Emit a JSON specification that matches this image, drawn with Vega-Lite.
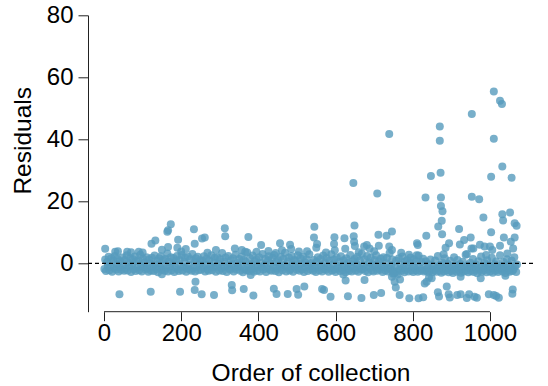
{
"$schema": "https://vega.github.io/schema/vega-lite/v6.json",
"width": 445, "height": 296.4,
"autosize": {"type": "none"},
"padding": {"left": 88, "top": 15.3, "right": 15, "bottom": 74.3},
"config": {"view": {"stroke": null}, "font": "Liberation Sans"},
"datasets": {"resid": [
{"x":1,"y":-1.8},{"x":3,"y":1.2},{"x":5,"y":-2.5},{"x":8,"y":0.4},{"x":10,"y":-0.9},{"x":12,"y":2.1},{"x":14,"y":-2.2},{"x":17,"y":-1.1},{"x":19,"y":1.6},{"x":21,"y":-2.7},{"x":24,"y":0.9},{"x":26,"y":-1.5},{"x":28,"y":2.4},{"x":31,"y":-2.0},{"x":33,"y":-0.3},{"x":35,"y":1.4},{"x":38,"y":-2.6},{"x":40,"y":-1.3},{"x":42,"y":0.7},{"x":45,"y":-2.1},{"x":47,"y":1.9},{"x":49,"y":-0.6},{"x":52,"y":-2.4},{"x":54,"y":1.1},{"x":56,"y":-1.7},{"x":59,"y":2.6},{"x":61,"y":-2.3},{"x":63,"y":0.2},{"x":66,"y":-1.0},{"x":68,"y":1.7},{"x":70,"y":-2.8},{"x":73,"y":-0.5},{"x":75,"y":1.3},{"x":77,"y":-1.9},{"x":80,"y":2.2},{"x":82,"y":-2.5},{"x":84,"y":0.6},{"x":87,"y":-1.4},{"x":89,"y":1.0},{"x":91,"y":-2.2},{"x":94,"y":2.8},{"x":96,"y":-0.8},{"x":98,"y":-2.6},{"x":101,"y":1.5},{"x":103,"y":-1.2},{"x":105,"y":0.3},{"x":108,"y":-2.0},{"x":110,"y":2.0},{"x":112,"y":-1.6},{"x":115,"y":-2.7},{"x":117,"y":1.2},{"x":119,"y":0.0},{"x":122,"y":-2.3},{"x":124,"y":1.8},{"x":126,"y":-1.1},{"x":129,"y":-2.5},{"x":131,"y":2.5},{"x":133,"y":-0.4},{"x":136,"y":-1.8},{"x":138,"y":0.8},{"x":140,"y":-2.9},{"x":143,"y":1.6},{"x":145,"y":-1.3},{"x":147,"y":2.3},{"x":150,"y":-2.1},{"x":152,"y":-0.7},{"x":154,"y":1.0},{"x":157,"y":-2.4},{"x":159,"y":1.4},{"x":161,"y":-1.6},{"x":164,"y":3.2},{"x":166,"y":-2.6},{"x":168,"y":0.5},{"x":171,"y":-1.0},{"x":173,"y":2.0},{"x":175,"y":-2.2},{"x":178,"y":-0.2},{"x":180,"y":1.7},{"x":182,"y":-2.8},{"x":185,"y":-1.4},{"x":187,"y":0.9},{"x":189,"y":2.4},{"x":192,"y":-1.9},{"x":194,"y":-2.5},{"x":196,"y":1.1},{"x":199,"y":-0.9},{"x":201,"y":2.7},{"x":203,"y":-2.3},{"x":206,"y":-1.2},{"x":208,"y":0.4},{"x":210,"y":1.9},{"x":213,"y":-2.7},{"x":215,"y":-1.7},{"x":217,"y":2.2},{"x":220,"y":-0.6},{"x":222,"y":-2.0},{"x":224,"y":1.3},{"x":227,"y":-2.4},{"x":229,"y":3.0},{"x":231,"y":-1.5},{"x":234,"y":0.7},{"x":236,"y":-2.6},{"x":238,"y":1.6},{"x":241,"y":-1.1},{"x":243,"y":2.1},{"x":245,"y":-2.2},{"x":248,"y":-0.3},{"x":250,"y":1.0},
{"x":252,"y":-2.1},{"x":255,"y":0.8},{"x":257,"y":-1.4},{"x":259,"y":2.3},{"x":262,"y":-2.6},{"x":264,"y":-0.5},{"x":266,"y":1.5},{"x":269,"y":-1.9},{"x":271,"y":-2.4},{"x":273,"y":1.0},{"x":276,"y":-0.8},{"x":278,"y":2.6},{"x":280,"y":-2.2},{"x":283,"y":-1.3},{"x":285,"y":0.3},{"x":287,"y":1.8},{"x":290,"y":-2.7},{"x":292,"y":-1.0},{"x":294,"y":2.0},{"x":297,"y":-0.2},{"x":299,"y":-2.3},{"x":301,"y":1.3},{"x":304,"y":-1.6},{"x":306,"y":3.3},{"x":308,"y":-2.5},{"x":311,"y":0.6},{"x":313,"y":-1.1},{"x":315,"y":1.9},{"x":318,"y":-2.8},{"x":320,"y":-0.6},{"x":322,"y":2.4},{"x":325,"y":-1.7},{"x":327,"y":-2.1},{"x":329,"y":0.9},{"x":332,"y":-0.4},{"x":334,"y":1.6},{"x":336,"y":-2.6},{"x":339,"y":-1.4},{"x":341,"y":2.8},{"x":343,"y":-2.0},{"x":346,"y":0.1},{"x":348,"y":-1.2},{"x":350,"y":1.4},{"x":353,"y":-2.4},{"x":355,"y":-0.7},{"x":357,"y":2.2},{"x":360,"y":-2.9},{"x":362,"y":1.1},{"x":364,"y":-1.8},{"x":367,"y":0.5},{"x":369,"y":-2.2},{"x":371,"y":3.5},{"x":374,"y":-1.0},{"x":376,"y":-2.5},{"x":378,"y":1.7},{"x":381,"y":-0.3},{"x":383,"y":-1.9},{"x":385,"y":2.5},{"x":388,"y":-2.7},{"x":390,"y":0.7},{"x":392,"y":-1.5},{"x":395,"y":1.2},{"x":397,"y":-2.3},{"x":399,"y":-0.9},{"x":402,"y":2.0},{"x":404,"y":-2.6},{"x":406,"y":0.2},{"x":409,"y":-1.3},{"x":411,"y":3.0},{"x":413,"y":-2.0},{"x":416,"y":-0.5},{"x":418,"y":1.5},{"x":420,"y":-2.8},{"x":423,"y":-1.6},{"x":425,"y":0.9},{"x":427,"y":2.3},{"x":430,"y":-2.1},{"x":432,"y":-0.1},{"x":434,"y":-2.4},{"x":437,"y":1.8},{"x":439,"y":-1.2},{"x":441,"y":2.7},{"x":444,"y":-2.5},{"x":446,"y":0.4},{"x":448,"y":-1.7},{"x":451,"y":1.0},{"x":453,"y":-2.9},{"x":455,"y":-0.8},{"x":458,"y":2.1},{"x":460,"y":-1.4},{"x":462,"y":-2.2},{"x":465,"y":1.4},{"x":467,"y":-0.6},{"x":469,"y":3.4},{"x":472,"y":-2.6},{"x":474,"y":-1.1},{"x":476,"y":0.6},{"x":479,"y":1.9},{"x":481,"y":-2.3},{"x":483,"y":-1.8},{"x":486,"y":2.4},{"x":488,"y":-0.4},{"x":490,"y":-2.7},{"x":493,"y":1.1},{"x":495,"y":-1.0},{"x":497,"y":0.8},{"x":500,"y":-2.1},{"x":502,"y":2.6},{"x":504,"y":-1.5},{"x":507,"y":-2.4},{"x":509,"y":1.6},{"x":511,"y":-0.2},{"x":514,"y":-1.9},{"x":516,"y":2.2},{"x":518,"y":-2.8},{"x":521,"y":0.3},{"x":523,"y":-1.3},{"x":525,"y":1.3},{"x":528,"y":-2.5},{"x":530,"y":-0.7},{"x":532,"y":2.9},{"x":535,"y":-2.0},{"x":537,"y":0.0},{"x":539,"y":-1.6},
{"x":542,"y":-2.4},{"x":544,"y":1.1},{"x":547,"y":-1.6},{"x":549,"y":-2.8},{"x":551,"y":0.5},{"x":554,"y":2.0},{"x":556,"y":-1.2},{"x":558,"y":-2.2},{"x":561,"y":1.4},{"x":563,"y":-0.6},{"x":565,"y":-2.6},{"x":568,"y":2.5},{"x":570,"y":-1.8},{"x":572,"y":0.2},{"x":575,"y":-2.1},{"x":577,"y":1.7},{"x":579,"y":-1.0},{"x":582,"y":-2.7},{"x":584,"y":0.8},{"x":586,"y":-1.5},{"x":589,"y":2.9},{"x":591,"y":-2.3},{"x":593,"y":-0.3},{"x":596,"y":1.2},{"x":598,"y":-2.0},{"x":600,"y":-2.8},{"x":603,"y":1.9},{"x":605,"y":-0.9},{"x":607,"y":-1.7},{"x":610,"y":0.4},{"x":612,"y":-2.5},{"x":614,"y":2.3},{"x":617,"y":-1.3},{"x":619,"y":-2.2},{"x":621,"y":1.0},{"x":624,"y":-0.5},{"x":626,"y":-2.9},{"x":628,"y":1.6},{"x":631,"y":-1.9},{"x":633,"y":0.1},{"x":635,"y":-2.4},{"x":638,"y":2.7},{"x":640,"y":-1.1},{"x":642,"y":-2.6},{"x":645,"y":0.7},{"x":647,"y":-1.6},{"x":649,"y":1.4},{"x":652,"y":-2.3},{"x":654,"y":-0.2},{"x":656,"y":2.1},{"x":659,"y":-2.7},{"x":661,"y":-1.4},{"x":663,"y":0.9},{"x":666,"y":-2.0},{"x":668,"y":3.1},{"x":670,"y":-1.8},{"x":673,"y":-0.7},{"x":675,"y":1.3},{"x":677,"y":-2.5},{"x":680,"y":-1.2},{"x":682,"y":2.4},{"x":684,"y":-2.9},{"x":687,"y":0.3},{"x":689,"y":-1.5},{"x":691,"y":1.8},{"x":694,"y":-2.2},{"x":696,"y":-0.4},{"x":698,"y":-2.6},{"x":701,"y":1.1},{"x":703,"y":-1.0},{"x":705,"y":2.6},{"x":708,"y":-2.4},{"x":710,"y":-1.7},{"x":712,"y":0.6},{"x":715,"y":-2.1},{"x":717,"y":1.5},{"x":719,"y":-0.8},{"x":722,"y":-2.8},{"x":724,"y":2.0},{"x":726,"y":-1.3},{"x":729,"y":-2.3},{"x":731,"y":0.0},{"x":733,"y":1.7},{"x":736,"y":-2.6},{"x":738,"y":-1.6},{"x":740,"y":3.3},{"x":743,"y":-2.0},{"x":745,"y":-0.6},{"x":747,"y":1.2},{"x":750,"y":-2.5},{"x":752,"y":-3.3},{"x":754,"y":-1.1},{"x":757,"y":0.8},{"x":759,"y":-2.7},{"x":761,"y":-3.6},{"x":764,"y":1.6},{"x":766,"y":-1.9},{"x":768,"y":-0.3},{"x":771,"y":-2.4},{"x":773,"y":2.2},{"x":775,"y":-1.4},{"x":778,"y":-2.9},{"x":780,"y":0.5},{"x":782,"y":-2.1},{"x":785,"y":1.0},{"x":787,"y":-1.7},{"x":789,"y":-2.6},{"x":792,"y":0.2},{"x":794,"y":1.9},{"x":796,"y":-2.3},{"x":799,"y":-0.9},{"x":801,"y":-2.8},{"x":803,"y":1.3},{"x":806,"y":-1.5},{"x":808,"y":-2.2},{"x":810,"y":0.7},{"x":813,"y":-2.7},{"x":815,"y":2.5},{"x":817,"y":-1.2},{"x":820,"y":-2.4},{"x":822,"y":0.4},{"x":824,"y":-1.8},{"x":827,"y":1.5},{"x":829,"y":-2.6},
{"x":832,"y":-2.2},{"x":834,"y":0.6},{"x":837,"y":-1.5},{"x":839,"y":-2.8},{"x":841,"y":-0.3},{"x":844,"y":-2.5},{"x":846,"y":1.2},{"x":848,"y":-1.9},{"x":851,"y":-2.9},{"x":853,"y":-0.8},{"x":855,"y":-2.3},{"x":858,"y":0.9},{"x":860,"y":-1.6},{"x":862,"y":-2.7},{"x":865,"y":2.4},{"x":867,"y":-1.1},{"x":869,"y":-2.4},{"x":872,"y":-0.5},{"x":874,"y":-3.0},{"x":876,"y":0.3},{"x":879,"y":-1.8},{"x":881,"y":-2.6},{"x":883,"y":1.6},{"x":886,"y":-1.3},{"x":888,"y":-2.2},{"x":890,"y":-0.1},{"x":893,"y":-2.9},{"x":895,"y":-1.7},{"x":897,"y":0.8},{"x":900,"y":-2.5},{"x":902,"y":-1.0},{"x":904,"y":-3.1},{"x":907,"y":2.0},{"x":909,"y":-2.0},{"x":911,"y":-0.6},{"x":914,"y":-2.7},{"x":916,"y":1.1},{"x":918,"y":-1.4},{"x":921,"y":-2.4},{"x":923,"y":-0.2},{"x":925,"y":-3.0},{"x":928,"y":-1.9},{"x":930,"y":0.5},{"x":932,"y":-2.6},{"x":935,"y":-1.2},{"x":937,"y":2.8},{"x":939,"y":-2.3},{"x":942,"y":-0.7},{"x":944,"y":-2.9},{"x":946,"y":-1.6},{"x":949,"y":0.2},{"x":951,"y":-2.5},{"x":953,"y":-1.0},{"x":956,"y":1.4},{"x":958,"y":-2.8},{"x":960,"y":-2.1},{"x":963,"y":-0.4},{"x":965,"y":-1.5},{"x":967,"y":-3.2},{"x":970,"y":0.7},{"x":972,"y":-2.4},{"x":974,"y":-1.8},{"x":977,"y":2.2},{"x":979,"y":-2.7},{"x":981,"y":-0.9},{"x":984,"y":-2.2},{"x":986,"y":0.1},{"x":988,"y":-1.4},{"x":991,"y":-2.9},{"x":993,"y":1.0},{"x":995,"y":-2.0},{"x":998,"y":-0.6},{"x":1000,"y":-2.6},{"x":1002,"y":-1.3},{"x":1005,"y":1.8},{"x":1007,"y":-3.0},{"x":1009,"y":-1.7},{"x":1012,"y":-0.3},{"x":1014,"y":-2.4},{"x":1016,"y":0.6},{"x":1019,"y":-1.1},{"x":1021,"y":-2.8},{"x":1023,"y":-2.1},{"x":1026,"y":2.6},{"x":1028,"y":-1.5},{"x":1030,"y":-0.8},{"x":1033,"y":-2.6},{"x":1035,"y":0.4},{"x":1037,"y":-1.9},{"x":1040,"y":-3.1},{"x":1042,"y":-1.2},{"x":1044,"y":1.3},{"x":1047,"y":-2.3},{"x":1049,"y":-0.5},{"x":1051,"y":-2.7},{"x":1054,"y":-1.6},{"x":1056,"y":0.9},{"x":1058,"y":-2.5},{"x":1061,"y":-2.0},{"x":1063,"y":2.0},{"x":1065,"y":-1.0},{"x":1068,"y":-2.8},{"x":1070,"y":-0.4},
{"x":36,"y":3.9},{"x":70,"y":3.6},{"x":100,"y":3.5},{"x":200,"y":3.8},{"x":268,"y":3.4},{"x":395,"y":3.7},{"x":445,"y":3.3},{"x":505,"y":3.8},{"x":575,"y":3.5},{"x":660,"y":3.6},{"x":700,"y":3.9},{"x":770,"y":3.4},{"x":790,"y":2.8},{"x":810,"y":2.6},{"x":880,"y":2.9},{"x":940,"y":3.0},{"x":990,"y":2.7},{"x":1045,"y":3.2},
{"x":150,"y":-3.5},{"x":380,"y":-3.8},{"x":620,"y":-3.6},{"x":1040,"y":-4.0},
{"x":1010,"y":55.4},{"x":1026,"y":52.4},{"x":1031,"y":51.4},{"x":953,"y":48.2},{"x":739,"y":41.7},{"x":870,"y":44.1},{"x":870,"y":39.5},{"x":1010,"y":40.2},{"x":1032,"y":31.2},{"x":847,"y":28.2},{"x":872,"y":29.2},{"x":1003,"y":27.9},{"x":1056,"y":27.6},{"x":646,"y":25.9},{"x":708,"y":22.5},{"x":833,"y":21.2},{"x":873,"y":21.2},{"x":953,"y":21.5},{"x":972,"y":20.7},{"x":873,"y":18.5},{"x":877,"y":16.8},{"x":983,"y":14.8},{"x":1032,"y":15.8},{"x":1034,"y":13.8},{"x":1052,"y":16.4},{"x":875,"y":13.7},{"x":866,"y":11.9},{"x":1064,"y":12.9},{"x":1069,"y":12.1},{"x":920,"y":11.1},{"x":1003,"y":10.0},{"x":835,"y":8.9},{"x":876,"y":9.4},{"x":950,"y":8.3},{"x":1036,"y":8.3},{"x":1064,"y":8.3},{"x":894,"y":6.5},{"x":885,"y":5.0},{"x":922,"y":6.1},{"x":933,"y":7.5},{"x":957,"y":4.8},{"x":986,"y":5.4},{"x":1006,"y":4.3},{"x":1026,"y":5.7},{"x":1054,"y":7.0},{"x":1060,"y":4.8},{"x":746,"y":10.3},{"x":811,"y":6.5},{"x":813,"y":5.9},{"x":974,"y":6.0},{"x":1000,"y":5.4},{"x":952,"y":4.8},
{"x":545,"y":11.8},{"x":649,"y":12.2},{"x":711,"y":9.2},{"x":732,"y":8.9},{"x":597,"y":8.4},{"x":623,"y":8.1},{"x":647,"y":8.7},{"x":648,"y":7.0},{"x":544,"y":8.3},{"x":552,"y":6.2},{"x":550,"y":5.0},{"x":596,"y":6.2},{"x":598,"y":4.2},{"x":625,"y":4.7},{"x":650,"y":5.6},{"x":674,"y":5.4},{"x":688,"y":4.8},{"x":712,"y":5.7},{"x":739,"y":5.4},{"x":746,"y":4.3},{"x":681,"y":5.9},
{"x":313,"y":11.3},{"x":314,"y":8.7},{"x":261,"y":8.3},{"x":374,"y":8.5},{"x":456,"y":6.5},{"x":482,"y":6.0},{"x":485,"y":4.6},{"x":407,"y":5.9},{"x":339,"y":4.8},{"x":357,"y":4.3},{"x":290,"y":4.3},{"x":426,"y":4.0},{"x":461,"y":4.2},{"x":526,"y":3.9},{"x":366,"y":3.7},
{"x":3,"y":4.7},{"x":29,"y":3.7},{"x":60,"y":3.7},{"x":90,"y":3.7},{"x":123,"y":6.3},{"x":133,"y":7.4},{"x":164,"y":10.2},{"x":166,"y":10.7},{"x":173,"y":12.6},{"x":150,"y":4.4},{"x":166,"y":5.3},{"x":192,"y":7.6},{"x":190,"y":5.0},{"x":212,"y":4.6},{"x":233,"y":11.0},{"x":235,"y":6.3},{"x":254,"y":8.0},
{"x":40,"y":-10.0},{"x":121,"y":-9.2},{"x":197,"y":-9.2},{"x":237,"y":-5.9},{"x":235,"y":-8.6},{"x":253,"y":-10.0},{"x":285,"y":-10.2},{"x":331,"y":-7.0},{"x":332,"y":-8.7},{"x":362,"y":-8.3},{"x":387,"y":-10.4},{"x":440,"y":-8.2},{"x":447,"y":-9.9},{"x":476,"y":-9.9},{"x":499,"y":-8.3},{"x":503,"y":-10.1},{"x":519,"y":-7.5},{"x":565,"y":-8.3},{"x":570,"y":-8.6},{"x":587,"y":-10.8},{"x":626,"y":-5.5},{"x":632,"y":-10.6},{"x":667,"y":-11.2},{"x":675,"y":-5.4},{"x":699,"y":-10.2},{"x":718,"y":-9.6},{"x":746,"y":-4.3},{"x":753,"y":-5.9},{"x":756,"y":-7.8},{"x":766,"y":-10.2},{"x":767,"y":-5.2},{"x":749,"y":-3.4},{"x":791,"y":-11.3},{"x":815,"y":-11.3},{"x":827,"y":-10.9},{"x":831,"y":-6.5},{"x":836,"y":-5.9},{"x":842,"y":-4.6},{"x":849,"y":-4.8},{"x":865,"y":-9.3},{"x":868,"y":-10.7},{"x":888,"y":-7.5},{"x":893,"y":-10.0},{"x":896,"y":-11.0},{"x":915,"y":-10.2},{"x":924,"y":-10.0},{"x":924,"y":-4.3},{"x":940,"y":-11.2},{"x":946,"y":-10.0},{"x":960,"y":-10.8},{"x":966,"y":-11.1},{"x":976,"y":-4.8},{"x":997,"y":-10.0},{"x":1010,"y":-10.2},{"x":1016,"y":-10.5},{"x":1023,"y":-11.1},{"x":1059,"y":-8.4},{"x":1058,"y":-9.8}
]},
"layer": [
{"data": {"name": "resid"},
 "mark": {"type": "circle", "size": 64, "color": "#569BBD", "opacity": 0.8},
 "encoding": {
  "x": {"field": "x", "type": "quantitative",
   "scale": {"domain": [-41.5, 1111.5], "nice": false, "zero": false},
   "axis": {"title": "Order of collection", "values": [0,200,400,600,800,1000], "format": "d", "domain": false, "grid": false,
    "tickSize": 9, "tickColor": "#222", "labelFontSize": 24, "labelColor": "#000", "labelPadding": 1, "labelFlush": false,
    "titleFontSize": 24.5, "titleFontWeight": "normal", "titleColor": "#000", "titleY": 68.3, "titleBaseline": "alphabetic"}},
  "y": {"field": "y", "type": "quantitative",
   "scale": {"domain": [-15.6, 80], "nice": false, "zero": false},
   "axis": {"title": "Residuals", "values": [0,20,40,60,80], "format": "d", "grid": false, "domainColor": "#222",
    "tickSize": 10, "tickColor": "#222", "labelFontSize": 24, "labelColor": "#000", "labelPadding": 5, "labelFlush": false,
    "titleFontSize": 24.5, "titleFontWeight": "normal", "titleColor": "#000", "titleX": -58, "titleY": 125, "titleBaseline": "alphabetic", "titleAngle": -90}}
 }},
{"data": {"values": [{}]},
 "mark": {"type": "rule", "color": "#222"},
 "encoding": {"x": {"datum": 0}, "x2": {"datum": 1000}, "y": {"datum": -15.6}}},
{"data": {"values": [{}]},
 "mark": {"type": "rule", "color": "#000", "strokeDash": [4, 3], "strokeWidth": 1.2},
 "encoding": {"y": {"datum": 0}}}
]
}
